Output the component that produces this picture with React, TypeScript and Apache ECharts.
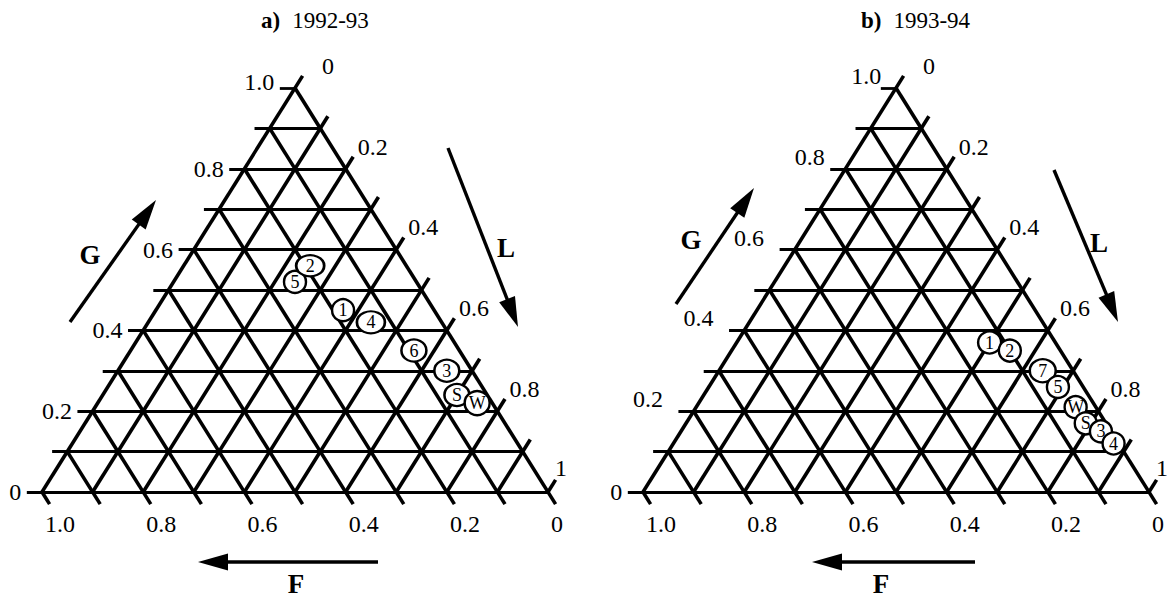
import React, { useEffect, useRef } from 'react';
import * as echarts from 'echarts';

// ---------- data ----------
const panelLetters = ['a)', 'b)'];
const panelYears = ['1992-93', '1993-94'];

// panel a) 1992-93 : G and L fractions (F = 1 - G - L)
const labels9293 = ['5', '2', '1', '4', '6', '3', 'S', 'W'];
const g9293 = [0.52, 0.56, 0.45, 0.42, 0.35, 0.30, 0.24, 0.22];
const l9293 = [0.24, 0.25, 0.37, 0.44, 0.56, 0.65, 0.70, 0.75];

// panel b) 1993-94
const labels9394 = ['1', '2', '7', '5', 'W', 'S', '3', '4'];
const g9394 = [0.37, 0.35, 0.30, 0.26, 0.21, 0.17, 0.15, 0.12];
const l9394 = [0.50, 0.55, 0.64, 0.69, 0.75, 0.79, 0.83, 0.87];

const gTickValues = [0, 0.2, 0.4, 0.6, 0.8, 1];
const gTickLabels = ['0', '0.2', '0.4', '0.6', '0.8', '1.0'];
const lTickValues = [0, 0.2, 0.4, 0.6, 0.8, 1];
const lTickLabels = ['0', '0.2', '0.4', '0.6', '0.8', '1'];
const fTickValues = [1, 0.8, 0.6, 0.4, 0.2, 0];
const fTickLabels = ['1.0', '0.8', '0.6', '0.4', '0.2', '0'];

const gridSteps = [0, 0.1, 0.2, 0.3, 0.4, 0.5, 0.6, 0.7, 0.8, 0.9, 1];

// ---------- styles / layout ----------
const FONT = 'Liberation Serif';
const TICK = 0.03;
const panelLeft = [42, 643];
const panelTop = 88;
const panelW = 506;
const panelH = 404;
const wideMarks: Record<string, number[]> = {
  '0-2': [28, 21], '0-4': [28, 22], '0-6': [25, 22], '0-3': [25, 22], '0-S': [25, 22], '0-W': [25, 24],
  '1-7': [26, 23], '1-1': [23, 22],
};
const gLabelLift = [
  (v: number) => (v === 1 ? -6 : 0),
  (v: number) => (v === 0 ? 0 : -12),
];
const gLabelShift = [
  (v: number) => 0,
  (v: number) => (v > 0.1 && v < 0.7 ? -10 : v === 1 ? 6 : 0),
];

// ternary (G, L) -> cartesian in unit triangle
const toXY = (g: number, l: number) => [l + g / 2, g];

function gridLines(kind: 'h' | 'd') {
  const out: any[] = [];
  gridSteps.forEach((v) => {
    if (kind === 'h') {
      out.push({ coords: [toXY(v, -TICK), toXY(v, 1 - v)] });
    } else {
      out.push({ coords: [toXY(0, v), toXY(1 - v + TICK, v)] });
      out.push({ coords: [toXY(-TICK, 1 - v + TICK), toXY(1 - v, 0)] });
    }
  });
  return out;
}

function tickLabelData(panel: number) {
  const data: any[] = [];
  gTickValues.forEach((v, j) => {
    data.push({
      name: gTickLabels[j],
      value: toXY(v, -TICK),
      label: { position: 'left', distance: 5, offset: [gLabelShift[panel](v), gLabelLift[panel](v)] },
    });
  });
  lTickValues.forEach((v, j) => {
    data.push({
      name: lTickLabels[j],
      value: toXY(1 - v + TICK, v),
      label: { position: 'right', distance: 3, offset: [v === 0 ? 16 : v === 1 ? -4 : 1, v === 1 ? -12 : -10] },
    });
  });
  fTickValues.forEach((v, j) => {
    data.push({
      name: fTickLabels[j],
      value: toXY(-TICK, 1 - v + TICK),
      label: { position: 'right', distance: 0, offset: [-5, 20] },
    });
  });
  return data;
}

function pointData(panel: number, names: string[], gs: number[], ls: number[]) {
  return names.map((n, i) => {
    const item: any = { name: n, value: toXY(gs[i], ls[i]) };
    const sz = wideMarks[panel + '-' + n];
    if (sz) item.symbolSize = sz;
    return item;
  });
}

function arrow(x1: number, y1: number, x2: number, y2: number, head = 30, w = 17) {
  const dx = x2 - x1, dy = y2 - y1;
  const len = Math.hypot(dx, dy);
  const ux = dx / len, uy = dy / len;
  const bx = x2 - ux * head, by = y2 - uy * head;
  const px = -uy, py = ux;
  return [
    { type: 'line', shape: { x1, y1, x2: bx + ux * 2, y2: by + uy * 2 }, style: { stroke: '#000', lineWidth: 3.4 } },
    {
      type: 'polygon',
      shape: { points: [[x2, y2], [bx + (px * w) / 2, by + (py * w) / 2], [bx - (px * w) / 2, by - (py * w) / 2]] },
      style: { fill: '#000' },
    },
  ];
}

function bigLetter(text: string, x: number, y: number) {
  return {
    type: 'text',
    x,
    y,
    style: { text, fontFamily: FONT, fontWeight: 'bold', fontSize: 27, fill: '#000', align: 'center', verticalAlign: 'middle' },
  };
}

export default function App() {
  const ref = useRef<HTMLDivElement>(null);
  useEffect(() => {
    if (!ref.current) return;
    const chart = echarts.init(ref.current, null, { renderer: 'svg' });
    const panels = [
      { names: labels9293, gs: g9293, ls: l9293 },
      { names: labels9394, gs: g9394, ls: l9394 },
    ];
    const series: any[] = [];
    panels.forEach((p, i) => {
      series.push({
        type: 'lines', coordinateSystem: 'cartesian2d', xAxisIndex: i, yAxisIndex: i,
        polyline: false, silent: true, clip: false, z: 2,
        lineStyle: { color: '#000', width: 2.8, opacity: 1 },
        data: gridLines('h'),
      });
      series.push({
        type: 'lines', coordinateSystem: 'cartesian2d', xAxisIndex: i, yAxisIndex: i,
        polyline: false, silent: true, clip: false, z: 2,
        lineStyle: { color: '#000', width: 3.6, opacity: 1 },
        data: gridLines('d'),
      });
      series.push({
        type: 'scatter', xAxisIndex: i, yAxisIndex: i, clip: false, silent: true, z: 3,
        symbolSize: 1, itemStyle: { color: 'rgba(0,0,0,0)', opacity: 1 },
        label: { show: true, formatter: (q: any) => q.name, fontFamily: FONT, fontSize: 24, color: '#000' },
        data: tickLabelData(i),
      });
      series.push({
        type: 'scatter', xAxisIndex: i, yAxisIndex: i, clip: false, silent: true, z: 5,
        symbol: 'circle', symbolSize: 22,
        itemStyle: { color: '#fff', borderColor: '#000', borderWidth: 2.4, opacity: 1 },
        label: { show: true, position: 'inside', formatter: (q: any) => q.name, fontFamily: FONT, fontSize: 18, color: '#000' },
        data: pointData(i, p.names, p.gs, p.ls),
      });
    });

    const graphics: any[] = [
      ...arrow(70, 322, 156, 200),
      ...arrow(448, 148, 518, 327),
      ...arrow(378, 562, 198, 562),
      ...arrow(676, 304, 754, 188),
      ...arrow(1054, 170, 1118, 322),
      ...arrow(975, 562, 812, 562),
      bigLetter('G', 90, 255),
      bigLetter('L', 506, 248),
      bigLetter('F', 296, 584),
      bigLetter('G', 691, 240),
      bigLetter('L', 1099, 243),
      bigLetter('F', 881, 584),
    ];

    chart.setOption({
      animation: false,
      backgroundColor: '#fff',
      textStyle: { fontFamily: FONT },
      title: [0, 1].map((i) => ({
        text: '{b|' + panelLetters[i] + '}{n|' + panelYears[i] + '}',
        left: i === 0 ? 256 : 856,
        top: 4,
        textStyle: {
          fontWeight: 'normal',
          rich: {
            b: { fontFamily: FONT, fontWeight: 'bold', fontSize: 23, color: '#000', padding: [0, 12, 0, 0] },
            n: { fontFamily: FONT, fontWeight: 'normal', fontSize: 23, color: '#000' },
          },
        },
      })),
      grid: [0, 1].map((i) => ({ left: panelLeft[i], top: panelTop, width: panelW, height: panelH })),
      xAxis: [0, 1].map((i) => ({ type: 'value', gridIndex: i, min: 0, max: 1, show: false })),
      yAxis: [0, 1].map((i) => ({ type: 'value', gridIndex: i, min: 0, max: 1, show: false })),
      series,
      graphic: graphics,
    });
    return () => chart.dispose();
  }, []);
  return <div ref={ref} style={{ position: 'fixed', left: 0, top: 0, width: 1167, height: 599, background: '#fff' }} />;
}
